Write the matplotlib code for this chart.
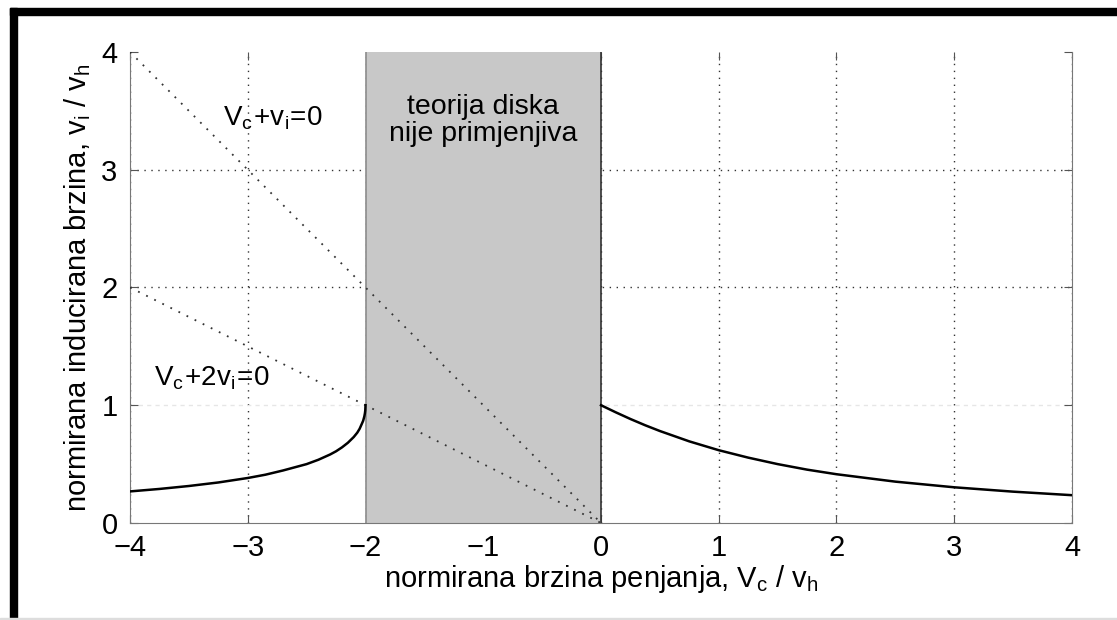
import matplotlib.pyplot as plt
from matplotlib.patches import Rectangle

plt.rcParams['font.family'] = ['Liberation Sans', 'DejaVu Sans']
plt.rcParams['mathtext.fontset'] = 'custom'
plt.rcParams['mathtext.rm'] = 'Liberation Sans'
plt.rcParams['mathtext.it'] = 'Liberation Sans'

# silazna grana (Vc/vh < -2), očitano sa slike
vc_spust = [-4.0, -3.75, -3.5, -3.25, -3.0, -2.85, -2.7, -2.6, -2.5, -2.4, -2.3,
            -2.25, -2.2, -2.15, -2.1, -2.07, -2.05, -2.03, -2.02, -2.01, -2.005,
            -2.002, -2.0]
vi_spust = [0.268, 0.289, 0.314, 0.344, 0.382, 0.41, 0.446, 0.473, 0.5, 0.537, 0.582,
            0.609, 0.642, 0.681, 0.73, 0.767, 0.8, 0.845, 0.868, 0.905, 0.932,
            0.956, 1.0]

# penjanje (Vc/vh > 0)
vc_penj = [0.0, 0.125, 0.25, 0.375, 0.5, 0.75, 1.0, 1.25, 1.5, 1.75, 2.0, 2.5,
           3.0, 3.5, 4.0]
vi_penj = [1.0, 0.94, 0.883, 0.83, 0.781, 0.693, 0.618, 0.555, 0.5, 0.453, 0.414,
           0.351, 0.303, 0.266, 0.236]

# pomoćni pravci
pravac1_x = [-4, 0]
pravac1_y = [4, 0]   # Vc + vi = 0
pravac2_x = [-4, 0]
pravac2_y = [2, 0]   # Vc + 2vi = 0

xticks = [-4, -3, -2, -1, 0, 1, 2, 3, 4]
yticks = [0, 1, 2, 3, 4]

fig = plt.figure(figsize=(11.17, 6.2), dpi=100)
ax = fig.add_axes([0.1164, 0.1565, 0.8433, 0.7596])

# mreža
for xv in xticks:
    ax.axvline(xv, color='#333333', lw=1.0, ls=(0, (1, 4)), zorder=1)
for yv in [2, 3]:
    ax.axhline(yv, color='#333333', lw=1.0, ls=(0, (1, 4)), zorder=1)
ax.axhline(1, color='#e6e6e6', lw=1.0, ls=(0, (3, 3)), zorder=1)

# područje gdje teorija ne vrijedi
ax.add_patch(Rectangle((-2, 0), 2, 4, facecolor='#c8c8c8', edgecolor='none', zorder=2))
ax.plot([-2, -2], [0, 4], color='#8c8c8c', lw=1.2, zorder=3)
ax.plot([0, 0], [0, 4], color='#333333', lw=1.2, zorder=3)

ax.plot(pravac1_x, pravac1_y, color='#333333', lw=1.3, ls=(0, (1, 4)), zorder=4)
ax.plot(pravac2_x, pravac2_y, color='#333333', lw=1.3, ls=(0, (1, 4)), zorder=4)

ax.plot(vc_spust, vi_spust, color='black', lw=1.8, zorder=5)
ax.plot(vc_penj, vi_penj, color='black', lw=1.8, zorder=5)

ax.text(-1, 3.42, 'teorija diska\nnije primjenjiva', ha='center', va='center',
        fontsize=20.5, linespacing=1.05, zorder=6)
ax.text(-3.21, 3.44, r'$\mathregular{V_c\!+\!v_i\!=\!0}$', ha='left', va='center',
        fontsize=20, zorder=6)
ax.text(-3.8, 1.23, r'$\mathregular{V_c\!+\!2v_i\!=\!0}$', ha='left', va='center',
        fontsize=20, zorder=6)

ax.set_xlim(-4, 4)
ax.set_ylim(0, 4)
ax.set_xticks(xticks)
ax.set_yticks(yticks)
ax.tick_params(direction='in', length=6, color='#555555', labelsize=21,
               top=True, right=True)
ax.tick_params(axis='x', pad=8)
ax.tick_params(axis='y', pad=9)
for s in ['left', 'bottom', 'right']:
    ax.spines[s].set_color('#777777')
ax.spines['top'].set_visible(False)

ax.set_xlabel(r'normirana brzina penjanja, $\mathregular{V_c\ /\ v_h}$', fontsize=21, labelpad=1)
ax.set_ylabel(r'normirana inducirana brzina, $\mathregular{v_i\ /\ v_h}$', fontsize=21, labelpad=6)

# crni okvir slike
fig.add_artist(Rectangle((10 / 1117, 1 - 15 / 620), 1.0, 7 / 620,
                         transform=fig.transFigure, color='black'))
fig.add_artist(Rectangle((10 / 1117, 0), 7 / 1117, 1 - 8 / 620,
                         transform=fig.transFigure, color='black'))
fig.add_artist(Rectangle((0, 0), 1.0, 2 / 620, transform=fig.transFigure,
                         color='#dddddd'))

fig.savefig('out.png', dpi=100)
